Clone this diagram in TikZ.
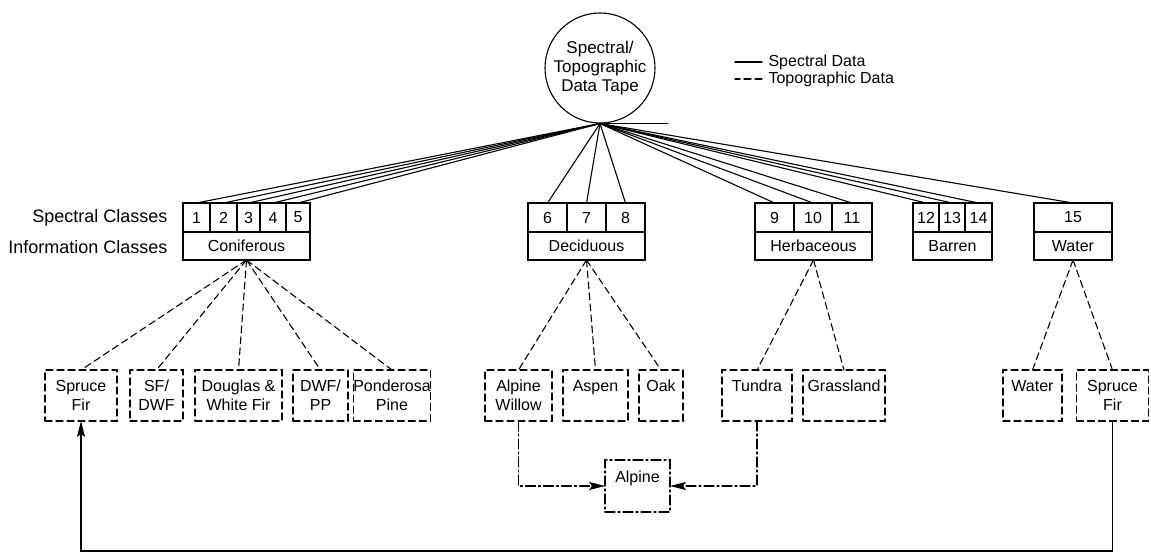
\documentclass[tikz,border=0pt]{standalone}
\usepackage{fontspec}
\setmainfont{Liberation Sans}
\usetikzlibrary{arrows.meta}

\begin{document}
\begin{tikzpicture}[%
        x = 1pt,
        y = -1pt,
        line width = 1.1pt,
        line cap = round,
        font = \fontsize{16}{19}\selectfont,
        spec/.style = {draw = black},
        topo/.style = {draw = black, dash pattern = on 7pt off 4pt},
        merge/.style = {draw = black, dash pattern = on 10pt off 3pt on 2pt off 3pt},
        arrowtip/.style = {-{Stealth[length = 16pt, width = 8pt, inset = 3pt]}}
    ]

        \useasboundingbox (0,0) rectangle (1151,553);

        % The data tape and the legend.
        \node[circle, draw, minimum size = 110pt, inner sep = 0pt, align = center,
            font = \fontsize{17}{19}\selectfont]
            (tape) at (600,68) {Spectral/\\Topographic\\Data Tape};
        \node[anchor = west, inner sep = 0pt] (legspec) at (768,62) {Spectral Data};
        \node[anchor = west, inner sep = 0pt] (legtopo) at (768,79) {Topographic Data};
        \draw[spec] (legspec.west) ++(-6,0) -- ++(-27,0);
        \draw[topo] (legtopo.west) ++(-6,0) -- ++(-27,0);

        % Row labels.
        \begin{scope}[every node/.style = {anchor = east, inner sep = 0pt,
            font = \fontsize{18}{20}\selectfont}]
            \node (speclabel) at (168,218) {Spectral Classes};
            \node (infolabel) at (168,247) {Information Classes};
        \end{scope}

        % Spectral classes.
        \begin{scope}[%
            every node/.style = {
                rectangle,
                draw = black,
                inner sep = 0pt,
                outer sep = 0pt,
                minimum height = 29pt
            }
        ]
            \node[minimum width = 27pt] (c1) at (196.5,217.5) {1};
            \node[minimum width = 27pt] (c2) at (223.5,217.5) {2};
            \node[minimum width = 23pt] (c3) at (248.5,217.5) {3};
            \node[minimum width = 26pt] (c4) at (273,217.5) {4};
            \node[minimum width = 24pt] (c5) at (298,217.5) {5};
            \node[minimum width = 39pt] (c6) at (547.5,217.5) {6};
            \node[minimum width = 39pt] (c7) at (586.5,217.5) {7};
            \node[minimum width = 39pt] (c8) at (625.5,217.5) {8};
            \node[minimum width = 39pt] (c9) at (774.5,217.5) {9};
            \node[minimum width = 38pt] (c10) at (813,217.5) {10};
            \node[minimum width = 40pt] (c11) at (852,217.5) {11};
            \node[minimum width = 26pt] (c12) at (926,217.5) {12};
            \node[minimum width = 26pt] (c13) at (952,217.5) {13};
            \node[minimum width = 27pt] (c14) at (978.5,217.5) {14};
            \node[minimum width = 78pt] (c15) at (1073,217.5) {15};
        \end{scope}

        % Information classes.
        \begin{scope}[%
            every node/.style = {
                rectangle,
                draw = black,
                inner sep = 0pt,
                outer sep = 0pt,
                minimum height = 28pt
            }
        ]
            \node[minimum width = 127pt] (conif) at (246.5,246) {Coniferous};
            \node[minimum width = 117pt] (decid) at (586.5,246) {Deciduous};
            \node[minimum width = 117pt] (herb) at (813.5,246) {Herbaceous};
            \node[minimum width = 79pt] (barren) at (952.5,246) {Barren};
            \node[minimum width = 78pt] (water) at (1073,246) {Water};
        \end{scope}

        % Topographic subclasses.
        \begin{scope}[%
            every node/.style = {
                rectangle,
                topo,
                align = center,
                inner sep = 0pt,
                outer sep = 0pt,
                minimum height = 51pt
            }
        ]
            \node[minimum width = 72pt] (sprucefir) at (81,395.5) {Spruce\\Fir};
            \node[minimum width = 53pt] (sfdwf) at (156.5,395.5) {SF/\\DWF};
            \node[minimum width = 87pt] (douglas) at (238.5,395.5) {Douglas \&\\White Fir};
            \node[minimum width = 55pt] (dwfpp) at (320.5,395.5) {DWF/\\PP};
            \node[minimum width = 70pt] (ponderosa) at (392,395.5) {Ponderosa\\Pine};
            \node[minimum width = 67pt] (willow) at (518.5,395.5) {Alpine\\Willow};
            \node[minimum width = 65pt] (aspen) at (595.5,395.5) {Aspen\\\mbox{}};
            \node[minimum width = 44pt] (oak) at (661,395.5) {Oak\\\mbox{}};
            \node[minimum width = 70pt] (tundra) at (757,395.5) {Tundra\\\mbox{}};
            \node[minimum width = 82pt] (grass) at (844,395.5) {Grassland\\\mbox{}};
            \node[minimum width = 59pt] (waterc) at (1032.5,395.5) {Water\\\mbox{}};
            \node[minimum width = 72pt] (sprucefirb) at (1112.5,395.5) {Spruce\\Fir};
        \end{scope}
        \node[rectangle, merge, align = center, inner sep = 0pt, outer sep = 0pt,
            minimum width = 65pt, minimum height = 52pt]
            (alpine) at (637.5,486) {Alpine\\\mbox{}};

        % Spectral data fanning out of the tape.
        \foreach \k in {1,...,15}
            \draw[spec] (tape.south) -- (c\k.north);
        \draw[spec] (tape.south) -- ++(68,0);

        % Dashed lines to the subclasses.
        \foreach \k in {sprucefir,sfdwf,douglas,dwfpp,ponderosa}
            \draw[topo] (conif.south) -- (\k.north);
        \foreach \k in {willow,aspen,oak}
            \draw[topo] (decid.south) -- (\k.north);
        \foreach \k in {tundra,grass}
            \draw[topo] (herb.south) -- (\k.north);
        \foreach \k in {waterc,sprucefirb}
            \draw[topo] (water.south) -- (\k.north);

        % Merging into alpine, and spruce fir back to coniferous.
        \draw[merge, arrowtip] (willow.south) |- (alpine.west);
        \draw[merge, arrowtip] (tundra.south) |- (alpine.east);
        \coordinate (feedback) at (600,551);
        \draw[spec, arrowtip] (sprucefirb.south) |- (feedback) -| (sprucefir.south);
    \end{tikzpicture}
\end{document}
